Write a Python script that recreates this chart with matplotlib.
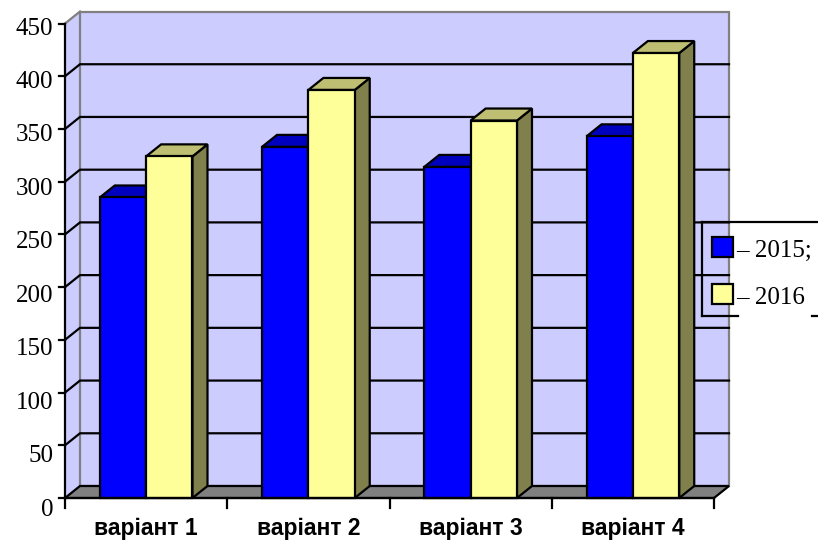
import matplotlib
matplotlib.use("Agg")
import matplotlib.pyplot as plt
from matplotlib.patches import Polygon, Rectangle
from matplotlib.lines import Line2D

categories = ['варіант 1', 'варіант 2', 'варіант 3', 'варіант 4']
values_2015 = [285, 333, 314, 343]
values_2016 = [324, 387, 358, 422]
series_names = ['– 2015;', '– 2016']
y_ticks = list(range(0, 451, 50))

front_colors = ['#0000FF', '#FFFF99']
top_colors = ['#0000BF', '#BFBF73']
side_colors = ['#00007F', '#80804D']
wall_color = '#CCCCFF'
edge_gray = '#808080'

W, H = 818, 540
fig = plt.figure(figsize=(W / 100, H / 100), dpi=100)
ax = fig.add_axes([0, 0, 1, 1])
ax.set_axis_off()

# pixel layout of the front plane: x in category units, y in value units
x0_px, y0_px = 65, 498
cat_px = 162.25
val_px = 1.0544
ax.set_xlim(-x0_px / cat_px, (W - x0_px) / cat_px)
ax.set_ylim(-(H - y0_px) / val_px, y0_px / val_px)

dx = 15 / cat_px   # 3d depth offset
dy = 12 / val_px
ymax = y_ticks[-1]
n = len(categories)
lw = 1.6

def px_x(p):
    return p / cat_px

def px_y(p):
    return p / val_px

# walls
ax.add_patch(Polygon([(0, 0), (0, ymax), (dx, ymax + dy), (dx, dy)],
                     closed=True, fc=wall_color, ec='none', zorder=1))
ax.add_patch(Polygon([(dx, dy), (n + dx, dy), (n + dx, ymax + dy), (dx, ymax + dy)],
                     closed=True, fc=wall_color, ec=edge_gray, lw=lw, zorder=1))
ax.plot([0, dx], [ymax, ymax + dy], color=edge_gray, lw=lw, zorder=1.5)

# gridlines on side and back wall
for v in y_ticks[1:-1]:
    ax.plot([0, dx, n + dx], [v, v + dy, v + dy], color='black', lw=lw,
            zorder=2, solid_joinstyle='miter')

# floor
ax.add_patch(Polygon([(0, 0), (n, 0), (n + dx, dy), (dx, dy)],
                     closed=True, fc=edge_gray, ec='black', lw=lw, zorder=2.5,
                     joinstyle='miter'))

# bars
bw = 1 / 3.5
for i in range(n):
    c = i + 0.5
    for s, vals in enumerate([values_2015, values_2016]):
        h = vals[i]
        x = c - bw + s * bw
        z = 3 + i + s * 0.5
        ax.add_patch(Polygon([(x + bw, 0), (x + bw + dx, dy), (x + bw + dx, h + dy), (x + bw, h)],
                             closed=True, fc=side_colors[s], ec='black', lw=lw,
                             zorder=z, joinstyle='miter'))
        ax.add_patch(Polygon([(x, h), (x + bw, h), (x + bw + dx, h + dy), (x + dx, h + dy)],
                             closed=True, fc=top_colors[s], ec='black', lw=lw,
                             zorder=z, joinstyle='miter'))
        ax.add_patch(Rectangle((x, 0), bw, h, fc=front_colors[s], ec='black', lw=lw,
                               zorder=z + 0.1, joinstyle='miter'))

# front axes
ax.plot([0, 0], [0, ymax], color='black', lw=lw, zorder=20)
ax.plot([0, n], [0, 0], color='black', lw=lw, zorder=20)
for v in y_ticks:
    ax.plot([-px_x(6), 0], [v, v], color='black', lw=lw, zorder=20)
    shift = 5 + 6.5 * (ymax - v) / ymax   # labels sit a little below their ticks
    ax.text(-px_x(12), v - px_y(shift), str(v), ha='right', va='center',
            fontsize=18, family='Liberation Serif', zorder=20)
for i in range(n + 1):
    ax.plot([i, i], [0, -px_y(10)], color='black', lw=lw, zorder=20)
for i, name in enumerate(categories):
    ax.text(i + 0.5, -px_y(31), name, ha='center', va='center', fontsize=16.5,
            fontweight='bold', family='Liberation Sans', zorder=20)

# legend (drawn in figure pixels, y from top)
def fx(p):
    return p / W

def fy(p):
    return 1 - p / H

for xs, ys in [([702, 702], [222, 316]), ([702, 820], [222, 222]),
               ([702, 738], [316, 316]), ([812, 820], [316, 316])]:
    fig.add_artist(Line2D([fx(a) for a in xs], [fy(b) for b in ys], color='black',
                          lw=lw, solid_capstyle='projecting'))
for s, name in enumerate(series_names):
    top = 237 + s * 47
    fig.add_artist(Rectangle((fx(712), fy(top + 20)), 21 / W, 20 / H,
                             fc=front_colors[s], ec='black', lw=lw,
                             transform=fig.transFigure))
    fig.text(fx(736), fy(top + 20), name, ha='left', va='baseline',
             fontsize=18, family='Liberation Serif')

fig.savefig('out.png', dpi=100)
